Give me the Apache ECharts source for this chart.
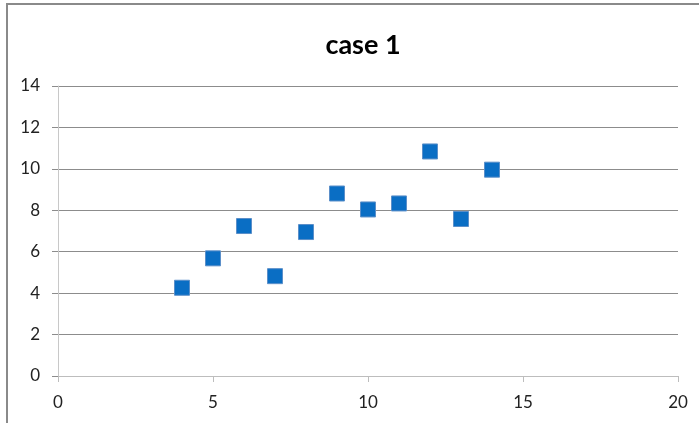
<!DOCTYPE html>
<html><head><meta charset="utf-8">
<script src="https://cdn.jsdelivr.net/npm/echarts@6/dist/echarts.min.js"></script>
<style>html,body{margin:0;padding:0;background:#fff}#c{width:699px;height:423px}</style>
</head><body><div id="c"></div>
<script>
const titleText = "case 1";
const xValues = [10, 8, 13, 9, 11, 14, 6, 4, 12, 7, 5];
const yValues = [8.04, 6.95, 7.58, 8.81, 8.33, 9.96, 7.24, 4.26, 10.84, 4.82, 5.68];
const points = xValues.map((x, i) => [x, yValues[i]]);
const font = "Lato, 'Open Sans', sans-serif";
const chart = echarts.init(document.getElementById('c'));
chart.setOption({
  animation: false,
  graphic: [{type:'rect', shape:{x:7, y:4, width:720, height:450}, style:{fill:'none', stroke:'#8a8a8a', lineWidth:2}, silent:true}],
  title: {text: titleText, left: 358, top: 27, textAlign: 'center',
    textStyle: {fontFamily: font, fontSize: 27, fontWeight: 'bold', color: '#000'}},
  grid: {left: 58, right: 21, top: 86, bottom: 47},
  xAxis: {type:'value', min:0, max:20, interval:5,
    axisLine:{show:true, lineStyle:{color:'#bdbdbd', width:1}},
    axisTick:{show:true, length:6, lineStyle:{color:'#bdbdbd'}},
    splitLine:{show:false},
    axisLabel:{fontFamily:font, fontSize:17, color:'#222', margin:18}},
  yAxis: {type:'value', min:0, max:14, interval:2,
    axisLine:{show:true, lineStyle:{color:'#c8c8c8', width:1}},
    axisTick:{show:true, length:6, lineStyle:{color:'#8c8c8c'}},
    splitLine:{show:true, lineStyle:{color:'#8c8c8c', width:1}},
    axisLabel:{fontFamily:font, fontSize:17, color:'#222', margin:18}},
  series: [{type:'scatter', data: points, symbol:'rect', symbolSize:15,
    itemStyle:{color:'#0a6ec4', borderColor:'#5b8fc9', borderWidth:1, opacity:1}}]
});
</script></body></html>
